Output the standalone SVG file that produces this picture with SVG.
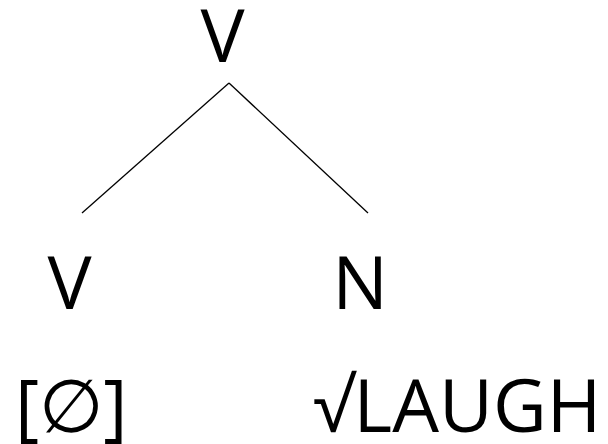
<svg xmlns="http://www.w3.org/2000/svg" width="608" height="444" viewBox="0 0 608 444">
  <style>
    .lbl { font-family: "Open Sans", "Noto Sans", sans-serif; font-size: 74px; fill: #000; }
    .edge { stroke: #000; stroke-width: 1.3; fill: none; }
  </style>
  <rect width="608" height="444" fill="#fff"/>
  <g id="connectors">
    <line class="edge" x1="229" y1="83" x2="82" y2="213"/>
    <line class="edge" x1="229" y1="83" x2="368" y2="213"/>
  </g>
  <g id="root-V">
    <text class="lbl" x="222.5" y="62" text-anchor="middle">V</text>
  </g>
  <g id="left-V">
    <text class="lbl" x="69.5" y="309" text-anchor="middle">V</text>
    <text class="lbl" x="15" y="432">[∅]</text>
  </g>
  <g id="right-N">
    <text class="lbl" x="360" y="309" text-anchor="middle">N</text>
    <text class="lbl" x="313" y="432">√LAUGH</text>
  </g>
</svg>
